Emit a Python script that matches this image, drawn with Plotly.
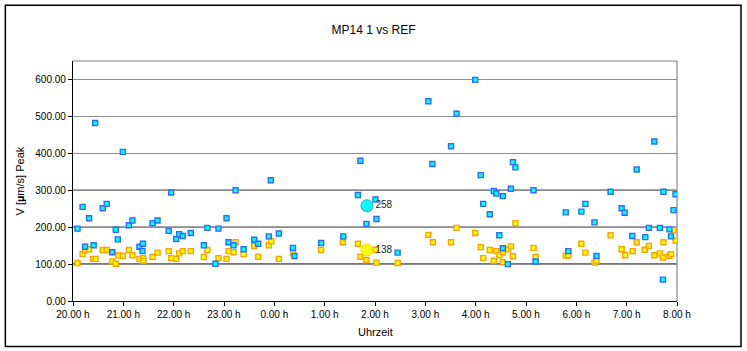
import plotly.graph_objects as go

# Hours since 20:00
blue_h = [0.09, 0.19, 0.24, 0.32, 0.41, 0.44, 0.59, 0.67, 0.78, 0.85, 0.89, 0.99, 1.11, 1.18, 1.32, 1.39, 1.38,
          1.58, 1.68, 1.90, 1.95, 2.05, 2.11, 2.18, 2.34, 2.60, 2.67, 2.83, 2.89, 3.05, 3.09, 3.19, 3.23, 3.39,
          3.60, 3.68, 3.89, 3.93, 4.09, 4.37, 4.40, 4.93, 5.37, 5.66, 5.71, 5.83, 6.01, 6.03, 6.45, 7.06, 7.14,
          7.51, 7.62, 7.99, 8.10, 8.15, 8.28, 8.36, 8.41, 8.47, 8.54, 8.54, 8.64, 8.70, 8.74, 8.79, 9.15, 9.19,
          9.79, 9.84, 10.10, 10.18, 10.36, 10.40, 10.68, 10.90, 10.96, 11.11, 11.20, 11.37, 11.44, 11.55, 11.66,
          11.72, 11.73, 11.85, 11.88, 11.93, 11.97]
blue_v = [196, 255, 147, 224, 151, 482, 251, 263, 132, 193, 167, 404, 205, 218, 147, 155, 135,
          211, 218, 190, 294, 168, 181, 176, 184, 151, 198, 101, 196, 224, 159, 151, 300, 140,
          166, 155, 175, 327, 183, 144, 122, 157, 175, 287, 380, 209, 275, 222, 131, 541, 371,
          419, 507, 599, 341, 263, 235, 298, 291, 178, 284, 143, 100, 304, 376, 362, 300, 107,
          240, 135, 242, 263, 213, 122, 296, 251, 239, 176, 356, 173, 198, 432, 198,
          58, 296, 194, 175, 246, 289]

ref_h = [0.09, 0.19, 0.24, 0.32, 0.40, 0.45, 0.59, 0.67, 0.78, 0.85, 0.90, 0.99, 1.11, 1.18, 1.32, 1.39, 1.40,
         1.58, 1.68, 1.90, 1.95, 2.05, 2.11, 2.18, 2.34, 2.60, 2.67, 2.89, 3.05, 3.09, 3.19, 3.23, 3.39, 3.60,
         3.68, 3.89, 3.94, 4.09, 4.37, 4.93, 5.36, 5.66, 5.71, 5.83, 6.01, 6.03, 6.45, 7.06, 7.15, 7.51, 7.62,
         7.99, 8.10, 8.15, 8.28, 8.36, 8.41, 8.47, 8.54, 8.54, 8.64, 8.70, 8.74, 8.79, 9.15, 9.19, 9.79, 9.84,
         10.10, 10.18, 10.36, 10.40, 10.68, 10.90, 10.97, 11.12, 11.20, 11.36, 11.44, 11.55, 11.66, 11.72, 11.73,
         11.85, 11.88, 11.93, 11.97]
ref_v = [103, 127, 137, 140, 114, 114, 138, 138, 107, 101, 124, 122, 138, 124, 114, 116, 109,
         120, 131, 135, 116, 114, 129, 135, 135, 119, 138, 116, 114, 135, 132, 159, 127, 149,
         120, 151, 162, 114, 129, 138, 159, 155, 120, 111, 139, 104, 103, 179, 159, 159, 198,
         184, 146, 116, 138, 109, 135, 124, 132, 105, 140, 148, 121, 211, 144, 119, 123, 124,
         155, 131, 104, 109, 178, 140, 124, 135, 159, 139, 149, 124, 129, 118, 159,
         122, 127, 192, 164]

hl_h = [5.84]
hl_blue = [258]
hl_ref = [138]

tick_vals = list(range(13))
tick_text = ["20.00 h", "21.00 h", "22.00 h", "23.00 h", "0.00 h", "1.00 h", "2.00 h",
             "3.00 h", "4.00 h", "5.00 h", "6.00 h", "7.00 h", "8.00 h"]
y_ticks = [0, 100, 200, 300, 400, 500, 600]

ARIAL = "Liberation Sans, Arial, sans-serif"
NARROW = "Liberation Sans Narrow, Arial Narrow, Liberation Sans, Arial, sans-serif"

fig = go.Figure()
fig.add_trace(go.Scatter(x=ref_h, y=ref_v, mode="markers", name="REF",
                         marker=dict(symbol="square", size=5, color="#FFFF00",
                                     line=dict(color="#FFA200", width=1.4))))
fig.add_trace(go.Scatter(x=blue_h, y=blue_v, mode="markers", name="MP14 1",
                         marker=dict(symbol="square", size=5, color="#00FFFF",
                                     line=dict(color="#2A6CFF", width=1.4))))
fig.add_trace(go.Scatter(x=hl_h, y=hl_blue, mode="markers+text", text=[str(v) for v in hl_blue],
                         textposition="middle right", textfont=dict(family=NARROW, size=10, color="#222"),
                         marker=dict(symbol="circle", size=12, color="#00FFFF",
                                     line=dict(color="#3399FF", width=1))))
fig.add_trace(go.Scatter(x=hl_h, y=hl_ref, mode="markers+text", text=[str(v) for v in hl_ref],
                         textposition="middle right", textfont=dict(family=NARROW, size=10, color="#222"),
                         marker=dict(symbol="circle", size=12, color="#FFFF00",
                                     line=dict(color="#FFCC00", width=1))))

shapes = []
# darker lines at 100/200/300
for yv in [100, 200, 300]:
    shapes.append(dict(type="line", xref="paper", yref="y", x0=0, x1=1, y0=yv, y1=yv,
                       line=dict(color="#4a4a4a", width=1.5), layer="below"))
# plot area border (top & right)
shapes.append(dict(type="line", xref="paper", yref="paper", x0=0, x1=1, y0=1, y1=1,
                   line=dict(color="#808080", width=1), layer="below"))
shapes.append(dict(type="line", xref="paper", yref="paper", x0=1, x1=1, y0=0, y1=1,
                   line=dict(color="#a0a0a0", width=1.5), layer="below"))
# outer chart frame
shapes.append(dict(type="rect", xref="paper", yref="paper", x0=-0.112, x1=1.106, y0=-0.19, y1=1.232,
                   line=dict(color="black", width=1.5), fillcolor="rgba(0,0,0,0)"))

fig.update_layout(
    width=747, height=351,
    margin=dict(l=73, r=70, t=61, b=50),
    paper_bgcolor="white", plot_bgcolor="white",
    showlegend=False,
    title=dict(text="MP14 1 vs REF", x=0.5, xanchor="center", y=1 - 30 / 351, yanchor="middle",
               font=dict(family=NARROW, size=12, color="black")),
    shapes=shapes,
    annotations=[
        dict(text="Uhrzeit", xref="paper", yref="paper", x=0.5, y=-0.131, showarrow=False,
             xanchor="center", yanchor="middle", font=dict(family=NARROW, size=11, color="black")),
        dict(text="V [<b>µ</b>m/s] Peak", xref="paper", yref="paper", x=-0.087, y=0.5, showarrow=False,
             textangle=-90, xanchor="center", yanchor="middle",
             font=dict(family=NARROW, size=11, color="black")),
    ],
)
fig.update_xaxes(range=[0, 12], tickvals=tick_vals, ticktext=tick_text, showgrid=False, zeroline=False,
                 showline=True, linecolor="black", linewidth=1.2, ticks="outside", ticklen=4,
                 tickcolor="black", tickfont=dict(family=ARIAL, size=10, color="black"))
fig.update_yaxes(range=[0, 650], tickvals=y_ticks, tickformat=".2f", showgrid=True, gridcolor="#8c8c8c",
                 gridwidth=1, zeroline=False, showline=True, linecolor="black", linewidth=1.2,
                 ticks="outside", ticklen=4, tickcolor="black",
                 tickfont=dict(family=ARIAL, size=10, color="black"))

fig.write_html("out.html", config={"displayModeBar": False},
               post_script="document.body.style.margin='0';document.body.style.overflow='hidden';")
